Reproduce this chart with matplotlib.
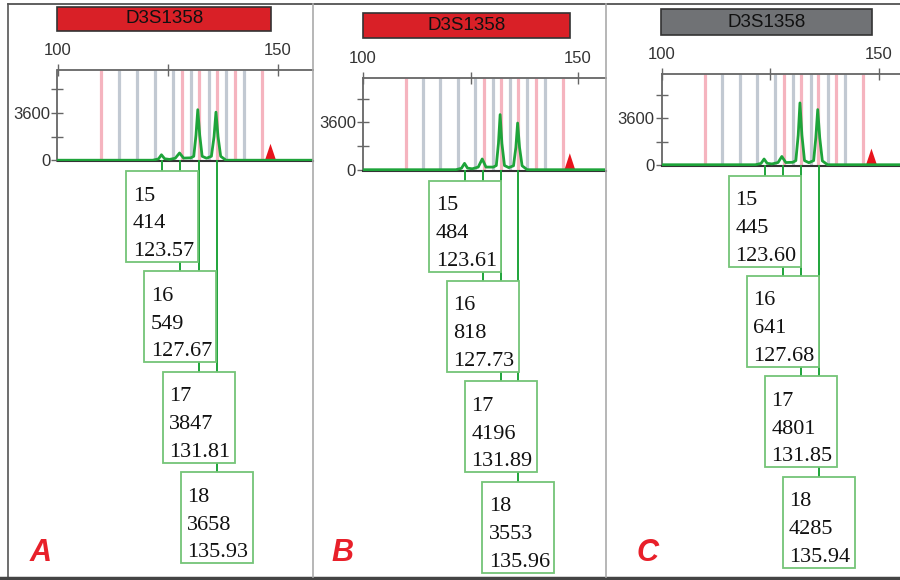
import matplotlib.pyplot as plt
from matplotlib.patches import Rectangle
from matplotlib.lines import Line2D

# ---- data ----
marker_name = 'D3S1358'
panel_letters = ['A', 'B', 'C']
alleles = ['15', '16', '17', '18']

sizes_A = [123.57, 127.67, 131.81, 135.93]
heights_A = [414, 549, 3847, 3658]
sizes_B = [123.61, 127.73, 131.89, 135.96]
heights_B = [484, 818, 4196, 3553]
sizes_C = [123.60, 127.68, 131.85, 135.94]
heights_C = [445, 641, 4801, 4285]

# bins (bp)
pink_bins = [109.9, 128.2, 132.0, 136.1, 140.2, 146.4]
gray_bins = [113.9, 117.95, 122.0, 126.1, 130.2, 134.3, 138.2, 142.3]

# red off-ladder marker
tri_bp = [148.3, 148.1, 148.3]
tri_rfu = 1250

# electropherogram traces (bp, rfu)
trace_bp_A = [100, 121.6, 122.9, 123.57, 124.3, 125.4, 126.7, 127.67, 128.6, 130.2, 130.9, 131.4,
              131.81, 132.25, 132.8, 133.8, 134.9, 135.5, 135.93, 136.4, 137.0, 138.2, 160]
trace_rfu_A = [0, 0, 100, 414, 110, 60, 150, 549, 160, 180, 300, 1900,
               3847, 1900, 300, 150, 300, 1800, 3658, 1800, 300, 0, 0]
trace_bp_B = [100, 121.6, 122.9, 123.61, 124.3, 125.4, 126.8, 127.73, 128.6, 130.3, 131.0, 131.5,
              131.89, 132.3, 132.9, 133.9, 135.0, 135.55, 135.96, 136.4, 137.0, 138.2, 160]
trace_rfu_B = [0, 0, 110, 484, 120, 70, 200, 818, 200, 200, 320, 2000,
               4196, 2000, 320, 160, 300, 1700, 3553, 1700, 300, 0, 0]
trace_bp_C = [100, 121.6, 122.9, 123.60, 124.3, 125.4, 126.8, 127.68, 128.6, 130.2, 130.9, 131.45,
              131.85, 132.3, 132.9, 133.9, 135.0, 135.5, 135.94, 136.4, 137.0, 138.2, 160]
trace_rfu_C = [0, 0, 100, 445, 110, 60, 170, 641, 170, 190, 320, 2300,
               4801, 2300, 320, 160, 320, 2100, 4285, 2100, 300, 0, 0]

sizes = [sizes_A, sizes_B, sizes_C]
heights = [heights_A, heights_B, heights_C]
traces = [(trace_bp_A, trace_rfu_A), (trace_bp_B, trace_rfu_B), (trace_bp_C, trace_rfu_C)]

# ---- layout (pixels in a 900x580 canvas) ----
W, H = 900, 580
panels = [
    dict(left=57.5, right=312.5, top=70, base=161, ppb=4.41, ytop=6870,
         bar=(57.3, 6.7, 271, 30.7), barcol='#d92027', letter_x=30),
    dict(left=363.0, right=605.5, top=78.3, base=170.5, ppb=4.30, ytop=6960,
         bar=(363.3, 13.3, 570, 38.3), barcol='#d92027', letter_x=331),
    dict(left=661.5, right=900, top=74, base=165.5, ppb=4.347, ytop=7050,
         bar=(661, 9.3, 871.7, 35), barcol='#707275', letter_x=637),
]
bottom_px = 577

green = '#1ea43a'
box_green = '#74c477'
pink = '#f5b4bf'
gray = '#c2c9d2'


def fx(x):
    return x / W


def fy(y):
    return 1 - y / H


fig = plt.figure(figsize=(9, 5.8), dpi=100)
fig.patch.set_facecolor('white')

for i, p in enumerate(panels):
    xmax = 100 + (p['right'] - p['left']) / p['ppb']
    ax = fig.add_axes([fx(p['left']), fy(p['base']), (p['right'] - p['left']) / W,
                       (p['base'] - p['top']) / H])
    ax.set_xlim(100, xmax)
    ax.set_ylim(-60, p['ytop'])
    ax.set_facecolor('white')

    ax.vlines(pink_bins, -60, p['ytop'], colors=pink, lw=2.3, zorder=1)
    ax.vlines(gray_bins, -60, p['ytop'], colors=gray, lw=2.3, zorder=1)

    tx, ty = traces[i]
    ax.plot(tx, ty, color=green, lw=2.0, zorder=5, solid_joinstyle='round')

    t = tri_bp[i]
    ax.fill([t - 1.25, t, t + 1.25], [0, tri_rfu, 0], color='#e8141c', zorder=4, lw=0)

    ax.xaxis.tick_top()
    ax.set_xticks([100, 125, 150])
    ax.set_xticklabels(['100', '', '150'])
    ax.set_yticks([0, 1800, 3600, 5400])
    ax.set_yticklabels(['0', '', '3600', ''])
    ax.tick_params(axis='both', direction='inout', length=8, width=1, colors='#666',
                   labelcolor='#333', labelsize=12)
    ax.tick_params(axis='x', pad=4.5)
    ax.tick_params(axis='y', pad=1)
    for lbl in ax.get_xticklabels() + ax.get_yticklabels():
        lbl.set_fontfamily('Liberation Sans')
    ax.spines['right'].set_visible(False)
    for s in ['top', 'left']:
        ax.spines[s].set_color('#666')
        ax.spines[s].set_linewidth(1.3)
    ax.spines['bottom'].set_color('#333')
    ax.spines['bottom'].set_linewidth(1.5)

    # label boxes below the trace
    lab = fig.add_axes([fx(p['left']), fy(bottom_px), (p['right'] - p['left']) / W,
                        (bottom_px - p['base']) / H])
    lab.set_xlim(100, xmax)
    lab.set_ylim(bottom_px - p['base'], 0)
    lab.axis('off')
    bw = 72 / p['ppb']
    bh = 91
    for k, (a, s, h) in enumerate(zip(alleles, sizes[i], heights[i])):
        top = 10 + k * 100.4
        c = s + 0.8 / p['ppb']
        lab.plot([c, c], [0, top], color=green, lw=1.4, zorder=1, clip_on=False)
        lab.add_patch(Rectangle((c - bw / 2, top), bw, bh, facecolor='white',
                                edgecolor=box_green, lw=1.3, zorder=2 + k))
        for j, txt in enumerate([a, str(h), f'{s:.2f}']):
            lab.text(c - bw / 2 + 6.5 / p['ppb'], top + 29.5 + j * 27.8, txt,
                     family='Liberation Serif', fontsize=16, color='#111',
                     va='baseline', ha='left', zorder=10 + k)

    # marker title bar
    x0, y0, x1, y1 = p['bar']
    fig.add_artist(Rectangle((fx(x0), fy(y1)), (x1 - x0) / W, (y1 - y0) / H,
                             transform=fig.transFigure, facecolor=p['barcol'],
                             edgecolor='#333', lw=1.2))
    fig.text(fx((x0 + x1) / 2), fy((y0 + y1) / 2), marker_name, ha='center', va='center',
             family='Liberation Sans', fontsize=13.5, color='#111')

    fig.text(fx(p['letter_x']), fy(561), panel_letters[i], ha='left', va='baseline',
             family='Liberation Sans', fontweight='bold', fontstyle='italic',
             fontsize=22, color='#e8202a')

# frame and panel dividers
fig.add_artist(Line2D([fx(8), 1], [fy(4), fy(4)], transform=fig.transFigure, color='#444', lw=1.2))
fig.add_artist(Line2D([fx(8), fx(8)], [fy(4), fy(577)], transform=fig.transFigure, color='#555', lw=1.2))
fig.add_artist(Line2D([0, 1], [fy(578), fy(578)], transform=fig.transFigure, color='#444', lw=2.5))
for xd in [312.7, 605.7]:
    fig.add_artist(Line2D([fx(xd), fx(xd)], [fy(4), fy(577)], transform=fig.transFigure,
                          color='#aaa', lw=1.2))

fig.savefig('out.png', dpi=100)
